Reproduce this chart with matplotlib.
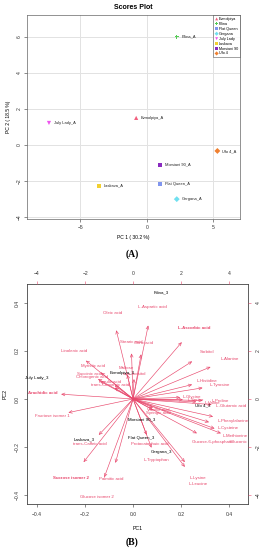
import matplotlib
matplotlib.use("Agg")
import matplotlib.pyplot as plt

plt.rcParams['font.family'] = ['Liberation Sans', 'DejaVu Sans']

# ---------------- data ----------------
samples = ["Evmolpiya", "Filina", "Flat Queen", "Gergana", "July Lady",
           "Laskava", "Morsiani 90", "Ufo 4"]
# Panel A scores
pc1_a = [-0.8, 2.25, 1.0, 2.25, -7.35, -3.6, 1.0, 5.3]
pc2_a = [1.5, 6.0, -2.15, -3.0, 1.22, -2.25, -1.1, -0.33]
# Panel B scores (biplot, score scale)
pc1_b = [-0.46, 1.17, 0.33, 1.2, -4.0, -2.04, 0.37, 2.92]
pc2_b = [1.08, 4.46, -1.63, -2.2, 0.875, -1.67, -0.83, -0.25]

# Panel B loadings
variables = ["L-Aspartic acid", "Oleic acid", "L-Ascorbic acid",
             "Stearic acid", "Citric acid", "Sorbitol", "L-Alanine",
             "Linolenic acid", "Myristic acid", "Maltose", "myo-Inositol",
             "Succinic acid", "Chlorogenic acid", "Ferulic acid", "trans-Cinnamic acid",
             "Arachidic acid", "Fructose isomer 1", "trans-Caffeic acid",
             "Sucrose isomer 2", "Palmitic acid", "Glucose isomer 2",
             "Protocatechuic acid", "L-Tryptophan", "L-Lysine", "L-Leucine",
             "L-Histidine", "L-Tyrosine", "L-Glycine", "L-Serine", "L-Proline",
             "L-Valine", "L-Glutamic acid", "L-Phenylalanine",
             "L-Cysteine", "L-Methionine", "Glucose-6-phosphate", "Gluconic acid",
             "Vanillic acid", "Syringic acid"]
load_pc1 = [0.079, -0.0875, 0.254,
            -0.008, 0.042, 0.308, 0.404,
            -0.246, -0.167, -0.03, 0.005,
            -0.183, -0.171, -0.096, -0.096,
            -0.375, -0.337, -0.179,
            -0.258, -0.092, -0.15,
            0.071, 0.096, 0.27, 0.27,
            0.308, 0.3625, 0.246, 0.26, 0.3625,
            0.33, 0.41, 0.417,
            0.396, 0.425, 0.333, 0.458,
            0.104, 0.104]
load_pc2 = [0.383, 0.358, 0.296,
            0.2375, 0.233, 0.196, 0.167,
            0.2, 0.1375, 0.127, 0.104,
            0.104, 0.092, 0.071, 0.058,
            0.025, -0.071, -0.1875,
            -0.329, -0.333, -0.408,
            -0.1875, -0.254, -0.329, -0.354,
            0.075, 0.058, 0.008, -0.004, -0.008,
            -0.015, -0.029, -0.092,
            -0.121, -0.154, -0.179, -0.179,
            -0.046, -0.058]
bold_vars = ["L-Ascorbic acid", "Arachidic acid", "Sucrose isomer 2"]

# ---------------- styles ----------------
colors = ["#F2607E", "#55CC55", "#8095EE", "#70E0F0", "#EE55EE",
          "#F2D030", "#8A2BC0", "#F08030"]
markers = ["^", "P", "s", "D", "v", "s", "s", "D"]
red = "#E8476C"

fig = plt.figure(figsize=(2.64, 5.5), dpi=100)

# ---------------- Panel A ----------------
axA = fig.add_axes([27 / 264, 1 - 219 / 550, 213 / 264, 204 / 550])
for name, x, y, c, m in zip(samples, pc1_a, pc2_a, colors, markers):
    axA.scatter([x], [y], marker=m, s=9, color=c, edgecolors='none', label=name, zorder=3)
    axA.text(x + 0.35, y, f"{name}_A", fontsize=2.9, va='center', ha='left', color='#222222')
axA.set_xlim(-9, 7)
axA.set_ylim(-4.1, 7.2)
axA.set_xticks([-5, 0, 5])
axA.set_yticks([-4, -2, 0, 2, 4, 6])
axA.grid(True, color='#e2e2e2', lw=0.7)
axA.set_axisbelow(True)
axA.tick_params(labelsize=3.6, length=2, width=0.4, colors='#333333', pad=2)
for lab in axA.get_yticklabels():
    lab.set_rotation(90)
    lab.set_va('center')
for sp in axA.spines.values():
    sp.set_linewidth(0.5)
    sp.set_color('#666666')
axA.set_xlabel("PC 1 ( 30.2 %)", fontsize=3.6, labelpad=4)
axA.set_ylabel("PC 2 ( 18.5 %)", fontsize=3.6, labelpad=4)
axA.set_title("Scores Plot", fontsize=5, fontweight='bold', pad=4)
leg = axA.legend(loc='upper right', fontsize=2.7, frameon=True, fancybox=False,
                 edgecolor='#333333', borderpad=0.5, handletextpad=0.1,
                 labelspacing=0.25, borderaxespad=0.0, handlelength=1.0,
                 markerscale=0.7)
leg.get_frame().set_linewidth(0.4)
fig.text(0.5, 1 - 254 / 550, "(A)", family='Liberation Serif', fontsize=7,
         fontweight='bold', ha='center', va='center')

# ---------------- Panel B ----------------
rectB = [27 / 264, 1 - 504 / 550, 221 / 264, 220 / 550]
axB = fig.add_axes(rectB)
axB.set_xlim(-0.442, 0.479)
axB.set_ylim(-0.4375, 0.479)
for v, lx, ly in zip(variables, load_pc1, load_pc2):
    axB.annotate("", xy=(0.8 * lx, 0.8 * ly), xytext=(0, 0),
                 arrowprops=dict(arrowstyle='->,head_length=0.22,head_width=0.1',
                                 color=red, lw=0.45, shrinkA=0, shrinkB=0))
    axB.text(lx, ly, v, fontsize=3.2, color=red, ha='center', va='center', clip_on=True,
             fontweight='bold' if v in bold_vars else 'normal')
axB.set_xticks([-0.4, -0.2, 0.0, 0.2, 0.4])
axB.set_yticks([-0.4, -0.2, 0.0, 0.2, 0.4])
axB.tick_params(labelsize=3.6, length=2.5, width=0.4, colors='#333333', pad=3)
for lab in axB.get_yticklabels():
    lab.set_rotation(90)
    lab.set_va('center')
for sp in axB.spines.values():
    sp.set_linewidth(0.6)
    sp.set_color('#444444')
axB.set_xlabel("PC1", fontsize=3.8, labelpad=7)
axB.set_ylabel("PC2", fontsize=3.8, labelpad=5)

axS = fig.add_axes(rectB, frameon=False)
axS.patch.set_visible(False)
axS.set_xlim(-4.42, 4.79)
axS.set_ylim(-4.375, 4.79)
axS.xaxis.tick_top()
axS.yaxis.tick_right()
axS.set_xticks([-4, -2, 0, 2, 4])
axS.set_yticks([-4, -2, 0, 2, 4])
axS.tick_params(labelsize=3.6, length=2.5, width=0.4, color=red, labelcolor='#333333', pad=3)
for lab in axS.get_yticklabels():
    lab.set_rotation(90)
    lab.set_va('center')
for name, x, y in zip(samples, pc1_b, pc2_b):
    axS.text(x, y, f"{name}_3", fontsize=3.2, color='black', ha='center', va='center')

fig.text(0.5, 1 - 542 / 550, "(B)", family='Liberation Serif', fontsize=7,
         fontweight='bold', ha='center', va='center')

fig.savefig("out.png", dpi=100)
